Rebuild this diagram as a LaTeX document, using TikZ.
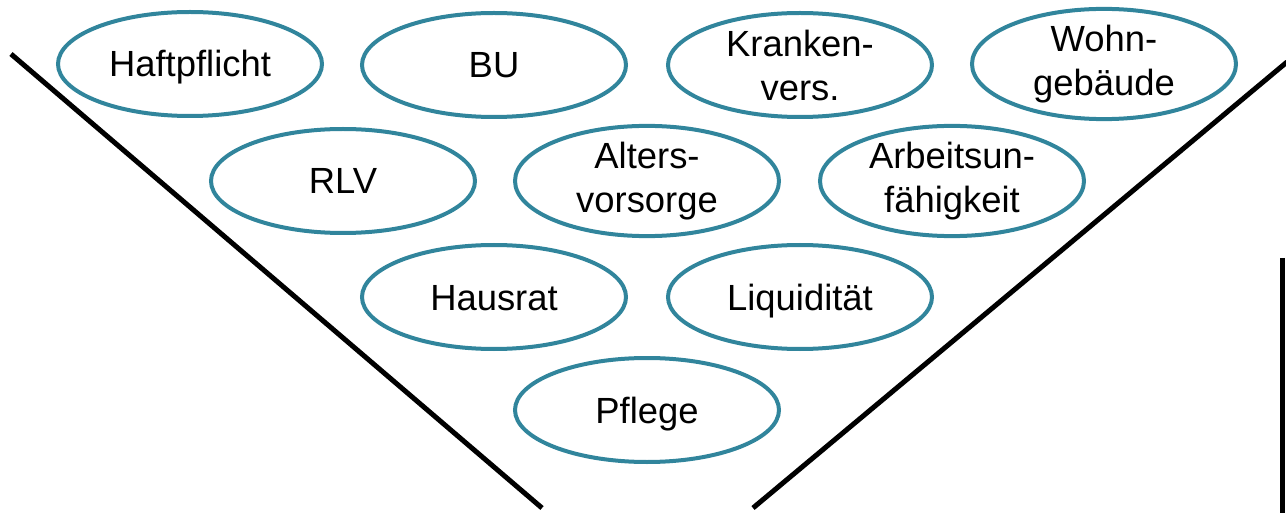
\documentclass[tikz,border=0pt]{standalone}
\usepackage{fontspec}
\setmainfont{Liberation Sans}
\usetikzlibrary{shapes.geometric}
\definecolor{tealrim}{HTML}{31859C}
\begin{document}
\begin{tikzpicture}[x=1pt,y=-1pt,
  bubble/.style={ellipse, draw=tealrim, line width=4pt, fill=white,
    minimum width=264pt, minimum height=104pt, inner sep=0pt,
    align=center, font=\fontsize{36.4}{44}\selectfont},
  oneline/.style={text height=26pt, text depth=0pt},
  funnel/.style={line width=5pt, line cap=butt}]
\useasboundingbox (0,0) rectangle (1286,513);
% funnel walls
\coordinate (lt) at (11,54);
\coordinate (lb) at (542,508);
\coordinate (rb) at (753,508);
\coordinate (rt) at (1287,62);
\draw[funnel] (lt) -- (lb);
\draw[funnel] (rb) -- (rt);
% right edge bar
\coordinate (vt) at (1282,258);
\coordinate (vb) at (1282,514);
\draw[funnel] (vt) -- (vb);
% first row
\node[bubble,oneline] (haft) at (190,64) {Haftpflicht};
\node[bubble,oneline] (bu) at (494,65) {BU};
\node[bubble] (kv) at (800,65) {Kranken-\\vers.};
\node[bubble] (wg) at (1104,64) {Wohn-\\gebäude};
% second row
\node[bubble,oneline] (rlv) at (343,181) {RLV};
\node[bubble] (av) at (647,181) {Alters-\\vorsorge};
\node[bubble] (au) at (952,181) {Arbeitsun-\\fähigkeit};
% third row
\node[bubble,oneline] (hr) at (494,297) {Hausrat};
\node[bubble,oneline] (lq) at (800,297) {Liquidität};
% bottom
\node[bubble,oneline] (pf) at (647,410) {Pflege};
\end{tikzpicture}
\end{document}
